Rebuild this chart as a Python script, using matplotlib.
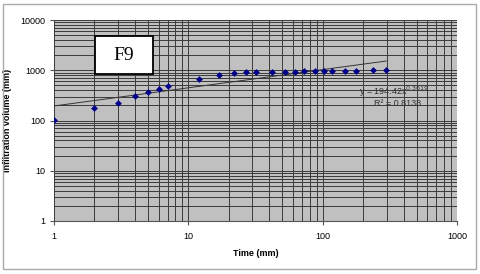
import matplotlib
matplotlib.use('agg')
import matplotlib.pyplot as plt
import numpy as np
from matplotlib.patches import Rectangle

time_min = [1, 2, 3, 4, 5, 6, 7, 12, 17, 22, 27, 32, 42, 52, 62, 72, 87,
            102, 117, 147, 177, 237, 297]
infil_volume = [104, 175, 220, 303, 374, 424, 493, 670, 815, 894, 905, 905,
                920, 920, 920, 945, 945, 960, 960, 975, 975, 990, 1005]

# power trendline coefficients shown on the chart
trend_a = 194.42
trend_b = 0.3619
r_squared = 0.8138

fig = plt.figure(figsize=(4.8, 2.74), dpi=100)
ax = fig.add_axes([54 / 480, 1 - 221 / 274, 403 / 480, 201 / 274])

ax.set_xscale('log')
ax.set_yscale('log')
ax.set_xlim(1, 1000)
ax.set_ylim(1, 10000)
ax.set_facecolor('#c0c0c0')

ax.grid(True, which='both', color='#3a3a3a', linewidth=0.7)
ax.set_axisbelow(True)
for s in ax.spines.values():
    s.set_visible(False)
ax.spines['bottom'].set_visible(True)
ax.spines['bottom'].set_color('#555555')

ax.scatter(time_min, infil_volume, s=12, marker='D', color='#00008b', zorder=3, linewidths=0)

tx = np.logspace(np.log10(time_min[0]), np.log10(time_min[-1]), 50)
ax.plot(tx, trend_a * tx ** trend_b, color='#333333', linewidth=0.7, zorder=2)

ax.set_xticks([1, 10, 100, 1000])
ax.set_xticklabels(['1', '10', '100', '1000'])
ax.set_yticks([1, 10, 100, 1000, 10000])
ax.set_yticklabels(['1', '10', '100', '1000', '10000'])
ax.tick_params(axis='both', which='major', labelsize=6.5, length=3, color='#555555', pad=3)
ax.tick_params(axis='x', which='major', pad=5)
ax.tick_params(axis='both', which='minor', length=0)

ax.set_xlabel('Time (mm)', fontsize=6.5, fontweight='bold', labelpad=6,
              family='Liberation Sans')
ax.set_ylabel('Infiltration volume (mm)', fontsize=6.5, fontweight='bold',
              labelpad=6, family='Liberation Sans')
for t in ax.get_xticklabels() + ax.get_yticklabels():
    t.set_family('Liberation Sans')

ax.text(0.845, 0.625, 'y = %.2fx$^{%.4f}$' % (trend_a, trend_b), transform=ax.transAxes,
        fontsize=6.5, color='#333333', family='Liberation Sans', ha='center')
ax.text(0.853, 0.572, 'R² = %.4f' % r_squared, transform=ax.transAxes,
        fontsize=6.5, color='#333333', family='Liberation Sans', ha='center')

# F9 label box
fig.patches.append(Rectangle((95 / 480, 1 - 74 / 274), 58 / 480, 38 / 274,
                             transform=fig.transFigure, facecolor='white',
                             edgecolor='black', linewidth=1.3, zorder=5))
fig.text(124 / 480, 1 - 56 / 274, 'F9', fontsize=14, family='Liberation Serif',
         ha='center', va='center', zorder=6)

# outer frame
fig.patches.append(Rectangle((3 / 480, 5 / 274), 473 / 480, 265 / 274,
                             transform=fig.transFigure, facecolor='none',
                             edgecolor='#aaaaaa', linewidth=1.0))

plt.savefig('out.png', dpi=100)
